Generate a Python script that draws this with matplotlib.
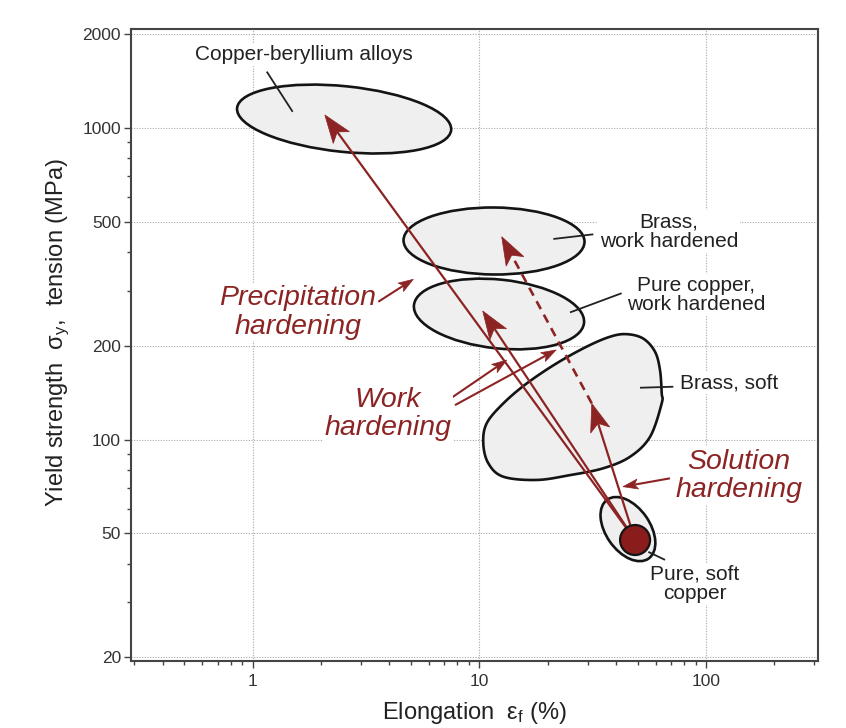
import numpy as np
import matplotlib
matplotlib.use("Agg")
import matplotlib.pyplot as plt
from matplotlib.patches import Ellipse, Polygon
from matplotlib.transforms import ScaledTranslation
from matplotlib.ticker import FixedLocator, FixedFormatter, NullFormatter

plt.rcParams['font.family'] = ['Liberation Sans', 'DejaVu Sans']
plt.rcParams['mathtext.fontset'] = 'custom'
plt.rcParams['mathtext.rm'] = 'Liberation Sans'
plt.rcParams['mathtext.it'] = 'Liberation Sans:italic'
plt.rcParams['mathtext.bf'] = 'Liberation Sans:bold'

# ---------------- data ----------------
x_major = [1, 10, 100]
x_major_labels = ['1', '10', '100']
x_minor = [0.3, 0.4, 0.5, 0.6, 0.7, 0.8, 0.9, 2, 3, 4, 5, 6, 7, 8, 9,
           20, 30, 40, 50, 60, 70, 80, 90, 200, 300]
y_major = [20, 50, 100, 200, 500, 1000, 2000]
y_major_labels = ['20', '50', '100', '200', '500', '1000', '2000']
y_minor = [30, 40, 60, 70, 80, 90, 300, 400, 600, 700, 800, 900]

# elliptical property regions (centre elongation %, centre yield strength MPa)
region_names = ['Copper-beryllium alloys', 'Brass, work hardened',
                'Pure copper, work hardened', 'Pure, soft copper']
region_x = [2.53, 11.6, 12.2, 45.2]
region_y = [1069, 434, 253, 51.6]

# brass, soft region outline (elongation %, yield strength MPa)
brass_soft_x = [44.6, 52.8, 59.5, 62.6, 63.7, 63.7, 56.6, 46.2, 35.2, 25.1,
                17.9, 12.75, 10.95, 10.4, 10.77, 12.75, 16.2, 21.9, 29.7, 37.7]
brass_soft_y = [218, 211, 191.5, 167.2, 140.8, 130.7, 102.1, 88.1, 80.9, 76.9,
                74.2, 76.0, 83.9, 97.3, 112.8, 130.7, 151.6, 175.7, 198.7, 213.9]

# pure soft copper starting point
soft_cu_x = 48.6
soft_cu_y = 47.6

# hardening arrows from pure soft copper
arrow_tip_x = [2.08, 10.34, 31.3]
arrow_tip_y = [1102, 258.7, 130.7]
dashed_from = (31.3, 130.7)
dashed_tip = (12.54, 448)

# label pointer arrows: (start, tip)
precip_ptr = ((3.58, 277), (5.11, 327))
work_ptrs = [((7.29, 134), (13.2, 180)), ((7.8, 129), (21.8, 194))]
solution_ptr = ((69.3, 75.1), (43.0, 70.6))

# leader lines for region labels
leaders = [((1.153, 1518), (1.50, 1128)),
           ((21.2, 440.6), (31.8, 456)),
           ((25.1, 256), (42.4, 295)),
           ((51.1, 146.7), (71.7, 147.8)),
           ((55.6, 43.6), (65.9, 41.1))]

# region labels
label_texts = ['Copper-beryllium alloys', 'Brass,\nwork hardened',
               'Pure copper,\nwork hardened', 'Brass, soft', 'Pure, soft\ncopper']
label_x = [1.684, 68.6, 90.3, 76.7, 89.3]
label_y = [1717, 465.6, 291, 152.2, 34.4]
label_ha = ['center', 'center', 'center', 'left', 'center']

mech_texts = ['Precipitation\nhardening', 'Work\nhardening', 'Solution\nhardening']
mech_x = [1.584, 3.95, 139.7]
mech_y = [255.8, 120.8, 76.4]

# ---------------- style ----------------
RED = '#8c2424'
FILL = '#efefef'
EDGE = '#141414'
ellipse_px = [(107.6, 32.8, -5.9), (90.5, 33.5, -0.5), (85.5, 34.4, -6.0), (36, 22, -55)]

fig = plt.figure(figsize=(8.46, 7.28), dpi=100)
W, H = 846, 728
ax = fig.add_axes([130.7 / W, (H - 661.3) / H, (818.3 - 130.7) / W, (661.3 - 29) / H])
ax.set_xscale('log')
ax.set_yscale('log')
ax.set_xlim(0.2895, 312.6)
ax.set_ylim(19.42, 2080)

ax.xaxis.set_major_locator(FixedLocator(x_major))
ax.xaxis.set_major_formatter(FixedFormatter(x_major_labels))
ax.xaxis.set_minor_locator(FixedLocator(x_minor))
ax.xaxis.set_minor_formatter(NullFormatter())
ax.yaxis.set_major_locator(FixedLocator(y_major))
ax.yaxis.set_major_formatter(FixedFormatter(y_major_labels))
ax.yaxis.set_minor_locator(FixedLocator(y_minor))
ax.yaxis.set_minor_formatter(NullFormatter())

ax.set_axisbelow(True)
ax.grid(True, which='major', color='#a8a8a8', linestyle=(0, (1, 1.4)), lw=0.8)
for s in ax.spines.values():
    s.set_color('#444444')
    s.set_linewidth(1.5)
ax.tick_params(which='major', length=5, width=1, color='#444444', labelsize=12.5,
               labelcolor='#333333')
ax.tick_params(which='minor', length=3, width=1, color='#444444')
ax.tick_params(axis='y', pad=2)
ax.tick_params(axis='x', pad=4)

ax.set_xlabel(r'Elongation  $\mathrm{\varepsilon_f}$ (%)', fontsize=17, color='#222222', labelpad=8)
ax.set_ylabel(r'Yield strength  $\mathrm{\sigma_y}$,  tension (MPa)', fontsize=17, color='#222222')
ax.yaxis.set_label_coords(-0.085, 0.52)

def offset_trans(x, y):
    return fig.dpi_scale_trans + ScaledTranslation(x, y, ax.transData)

# ellipses
for (cx, cy, (a, b, ang)) in zip(region_x, region_y, ellipse_px):
    e = Ellipse((0, 0), 2 * a / fig.dpi, 2 * b / fig.dpi, angle=ang,
                transform=offset_trans(cx, cy), facecolor=FILL, edgecolor=EDGE,
                lw=1.9, zorder=2)
    ax.add_patch(e)

# brass soft smooth outline (Catmull-Rom in log space)
def closed_smooth(xs, ys, n=24):
    P = np.column_stack([np.log10(xs), np.log10(ys)])
    N = len(P)
    out = []
    t = np.linspace(0, 1, n, endpoint=False)[:, None]
    for i in range(N):
        p0, p1, p2, p3 = P[i - 1], P[i], P[(i + 1) % N], P[(i + 2) % N]
        seg = 0.5 * (2 * p1 + (-p0 + p2) * t + (2 * p0 - 5 * p1 + 4 * p2 - p3) * t ** 2
                     + (-p0 + 3 * p1 - 3 * p2 + p3) * t ** 3)
        out.append(seg)
    out = np.vstack(out)
    return 10 ** out[:, 0], 10 ** out[:, 1]

bx, by = closed_smooth(brass_soft_x, brass_soft_y)
ax.fill(bx, by, facecolor=FILL, edgecolor=EDGE, lw=1.9, zorder=2)

# leader lines
for (p0, p1) in leaders:
    ax.plot([p0[0], p1[0]], [p0[1], p1[1]], color='#222222', lw=1.3, zorder=3,
            solid_capstyle='butt')

def arrow(start, tip, L, Wd, notch, lw, ls='-', z=4):
    p0 = ax.transData.transform(start)
    p1 = ax.transData.transform(tip)
    d = p1 - p0
    u = d / np.hypot(*d)
    n = np.array([-u[1], u[0]])
    base = p1 - u * (L - notch)
    bdata = ax.transData.inverted().transform(base)
    if ls == '-':
        ax.plot([start[0], bdata[0]], [start[1], bdata[1]], color=RED, lw=lw,
                zorder=z, solid_capstyle='butt')
    else:
        ax.plot([start[0], bdata[0]], [start[1], bdata[1]], color=RED, lw=lw,
                zorder=z, dashes=(3.4, 2.4), dash_capstyle='butt')
    s = 1.0 / fig.dpi
    verts = np.array([[0, 0], (-u * L + n * Wd / 2), (-u * (L - notch)), (-u * L - n * Wd / 2)]) * s
    ax.add_patch(Polygon(verts, closed=True, facecolor=RED, edgecolor=RED, lw=0.5,
                         transform=offset_trans(tip[0], tip[1]), zorder=z))

# main hardening arrows
for tx, ty in zip(arrow_tip_x, arrow_tip_y):
    arrow((soft_cu_x, soft_cu_y), (tx, ty), 28, 20, 7, 1.6)
arrow(dashed_from, dashed_tip, 28, 20, 7, 1.9, ls='--')

# pointer arrows
for (s0, s1) in [precip_ptr] + work_ptrs + [solution_ptr]:
    arrow(s0, s1, 15, 10, 3.5, 1.5)

# pure soft copper dot
ax.add_patch(Ellipse((0, 0), 30 / fig.dpi, 30 / fig.dpi, transform=offset_trans(soft_cu_x, soft_cu_y),
                     facecolor='#8a1c1c', edgecolor=EDGE, lw=1.6, zorder=5))

# labels
for s, x, y, ha in zip(label_texts, label_x, label_y, label_ha):
    ax.text(x, y, s, fontsize=15, ha=ha, va='center', multialignment='center',
            color='#222222', linespacing=1.05, zorder=6,
            bbox=dict(boxstyle='square,pad=0.08', fc='white', ec='none'))

for s, x, y in zip(mech_texts, mech_x, mech_y):
    ax.text(x, y, s, fontsize=20.5, style='italic', ha='center', va='center',
            multialignment='center', color=RED, linespacing=1.12, zorder=6,
            bbox=dict(boxstyle='square,pad=0.05', fc='white', ec='none'))

fig.savefig('out.png', dpi=100)
